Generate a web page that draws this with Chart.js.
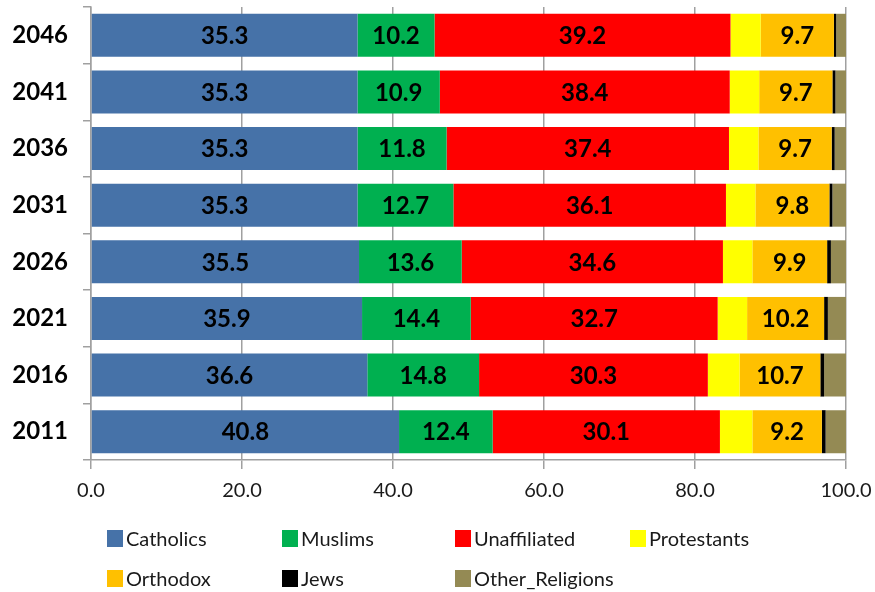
<!DOCTYPE html>
<html>
<head>
<meta charset="utf-8">
<script src="https://cdn.jsdelivr.net/npm/chart.js@4"></script>
<style>
    html, body { margin: 0; padding: 0; background: #fff; }
    #wrap { position: relative; width: 875px; height: 592px; }
    #legenda { position: absolute; left: 0; top: 0; width: 875px; height: 592px; pointer-events: none; }
    .item { position: absolute; display: flex; align-items: center; font-family: Lato, sans-serif; font-size: 20px; color: #1a1a1a; }
    .item span.box { display: inline-block; width: 16px; height: 17px; margin-right: 3px; }
</style>
</head>
<body>
<div id="wrap">
    <canvas id="grafico" width="875" height="592"></canvas>
    <div id="legenda"></div>
</div>
<script>
const anos = ["2011", "2016", "2021", "2026", "2031", "2036", "2041", "2046"];
const catolicos = [40.8, 36.6, 35.9, 35.5, 35.3, 35.3, 35.3, 35.3];
const muculmanos = [12.4, 14.8, 14.4, 13.6, 12.7, 11.8, 10.9, 10.2];
const semReligiao = [30.1, 30.3, 32.7, 34.6, 36.1, 37.4, 38.4, 39.2];
const protestantes = [4.3, 4.2, 3.9, 3.9, 3.9, 3.9, 3.9, 4.0];
const ortodoxos = [9.2, 10.7, 10.2, 9.9, 9.8, 9.7, 9.7, 9.7];
const judeus = [0.5, 0.5, 0.5, 0.5, 0.4, 0.4, 0.4, 0.3];
const outras = [2.7, 2.9, 2.4, 2.0, 1.8, 1.5, 1.4, 1.3];
const ticksX = [0, 20, 40, 60, 80, 100];

const series = [
    { label: "Catholics", data: catolicos, cor: "#4672A8", rotulo: true },
    { label: "Muslims", data: muculmanos, cor: "#00B050", rotulo: true },
    { label: "Unaffiliated", data: semReligiao, cor: "#FF0000", rotulo: true },
    { label: "Protestants", data: protestantes, cor: "#FFFF00", rotulo: false },
    { label: "Orthodox", data: ortodoxos, cor: "#FFC000", rotulo: true },
    { label: "Jews", data: judeus, cor: "#000000", rotulo: false },
    { label: "Other_Religions", data: outras, cor: "#948A54", rotulo: false }
];

// rotulos dentro das barras
const rotulosPlugin = {
    id: "rotulos",
    afterDatasetsDraw(chart) {
        const ctx = chart.ctx;
        ctx.save();
        ctx.font = "bold 24px Lato, sans-serif";
        ctx.fillStyle = "#000";
        ctx.textAlign = "center";
        ctx.textBaseline = "middle";
        chart.data.datasets.forEach((ds, i) => {
            if (!series[i].rotulo) return;
            chart.getDatasetMeta(i).data.forEach((bar, j) => {
                ctx.fillText(ds.data[j].toFixed(1), (bar.x + bar.base) / 2, bar.y + 1);
            });
        });
        ctx.restore();
    }
};

const config = {
    type: 'bar',
    data: {
        labels: anos,
        datasets: series.map(s => ({
            label: s.label,
            data: s.data,
            backgroundColor: s.cor,
            borderWidth: 0,
            barPercentage: 0.76,
            categoryPercentage: 1
        }))
    },
    options: {
        indexAxis: 'y',
        responsive: false,
        animation: false,
        layout: { padding: { left: 0, right: 29, top: 7, bottom: 82 } },
        plugins: {
            legend: { display: false },
            tooltip: { enabled: false }
        },
        scales: {
            x: {
                stacked: true,
                min: 0,
                max: 100,
                afterBuildTicks: (scale) => { scale.ticks = ticksX.map(v => ({ value: v })); },
                afterFit: (scale) => {
                    scale.height = 50;
                    scale.paddingLeft = 0;
                    scale.paddingRight = 0;
                },
                ticks: {
                    callback: (v) => Number(v).toFixed(1),
                    font: { family: "Lato", size: 20 },
                    color: "#1a1a1a",
                    padding: 10,
                    maxRotation: 0
                },
                grid: { color: "#a0a0a0", lineWidth: 1.5, tickLength: 9 },
                border: { color: "#a0a0a0", width: 1.5 }
            },
            y: {
                stacked: true,
                reverse: true,
                afterFit: (scale) => {
                    scale.width = 91;
                    scale.paddingTop = 0;
                    scale.paddingBottom = 0;
                },
                ticks: {
                    font: { family: "Lato", size: 24, weight: "bold" },
                    color: "#000",
                    padding: 15
                },
                grid: { drawOnChartArea: false, color: "#a0a0a0", lineWidth: 1.5, tickLength: 8 },
                border: { color: "#a0a0a0", width: 1.5 }
            }
        }
    },
    plugins: [rotulosPlugin]
};

const grafico = new Chart(document.getElementById("grafico"), config);

// legenda em grade, como no original
const colunas = [107, 282, 455, 630];
const linhas = [538, 578];
const legenda = document.getElementById("legenda");
grafico.data.datasets.forEach((ds, i) => {
    const el = document.createElement("div");
    el.className = "item";
    el.style.left = colunas[i % 4] + "px";
    el.style.top = (linhas[Math.floor(i / 4)] - 12) + "px";
    el.style.height = "24px";
    el.innerHTML = '<span class="box" style="background:' + ds.backgroundColor + '"></span>' + ds.label;
    legenda.appendChild(el);
});
</script>
</body>
</html>
